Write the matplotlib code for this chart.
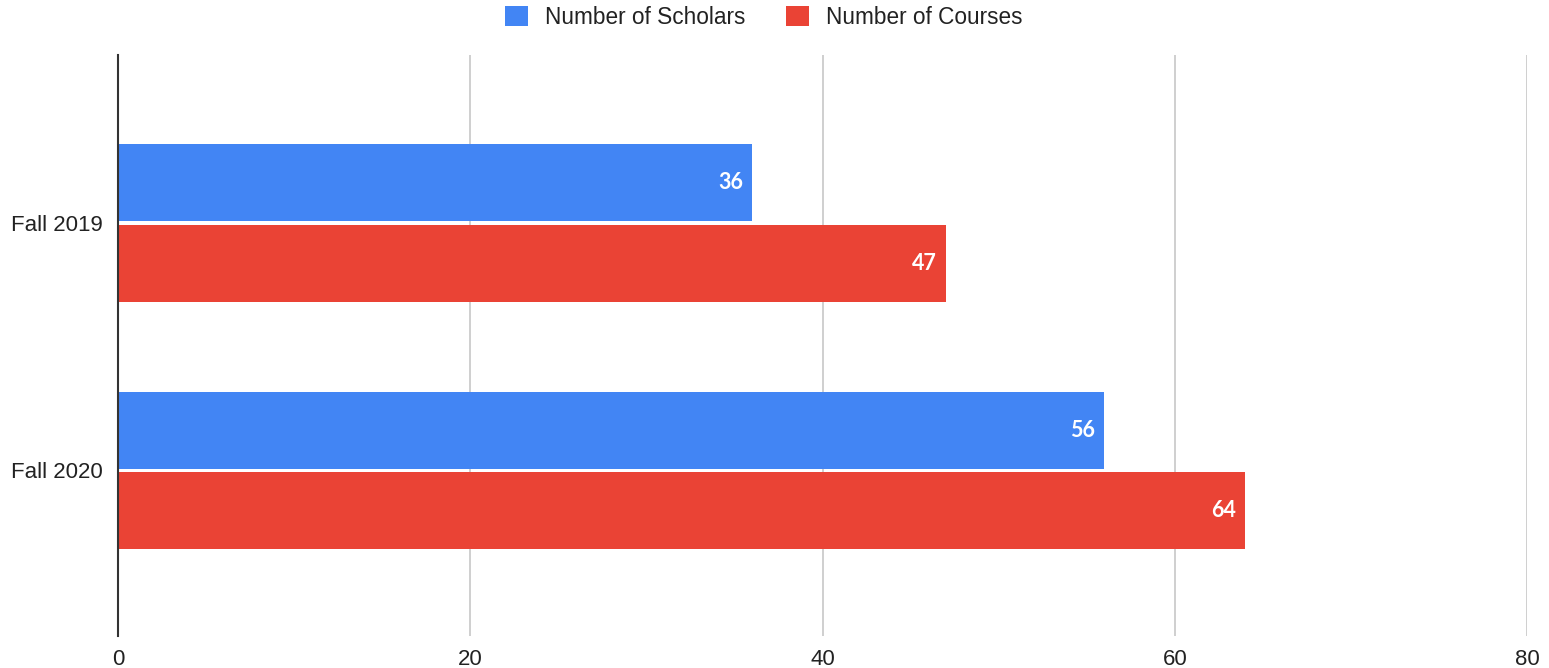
import matplotlib.pyplot as plt
import numpy as np

terms = ['Fall 2019', 'Fall 2020']
scholars = [36, 56]
courses = [47, 64]
series_names = ['Number of Scholars', 'Number of Courses']
x_ticks = [0, 20, 40, 60, 80]

blue = '#4285F4'
red = '#EA4335'

plt.rcParams['font.family'] = ['Liberation Sans', 'DejaVu Sans']

fig = plt.figure(figsize=(15.49, 6.68), dpi=100)
ax = fig.add_axes([0.0762, 0.0479, 0.9096, 0.8698])

y = np.arange(len(terms))
h = 0.31
gap = 0.008
b1 = ax.barh(y - h / 2 - gap, scholars, height=h, color=blue, label=series_names[0], zorder=3)
b2 = ax.barh(y + h / 2 + gap, courses, height=h, color=red, label=series_names[1], zorder=3)

# white value labels at the bar ends
for bars in (b1, b2):
    for rect in bars:
        w = rect.get_width()
        ax.text(w - 0.5, rect.get_y() + rect.get_height() / 2, str(int(w)),
                ha='right', va='center', color='white', fontsize=15.5,
                family='Lato', fontweight='bold', zorder=4)

ax.set_xlim(0, 80)
ax.set_ylim(1.668, -0.677)
ax.set_xticks(x_ticks)
ax.set_yticks(y)
ax.set_yticklabels(terms)
ax.tick_params(axis='both', length=0, labelsize=16, colors='#222222')
ax.tick_params(axis='x', pad=9)
ax.tick_params(axis='y', pad=11)
ax.grid(axis='x', color='#CCCCCC', linewidth=1.3, zorder=0)
for s in ['top', 'right', 'bottom']:
    ax.spines[s].set_visible(False)
ax.spines['left'].set_color('#333333')
ax.spines['left'].set_linewidth(1.5)
ax.spines['left'].set_zorder(5)

fig.legend(handles=[b1, b2], labels=series_names, loc='upper center',
           bbox_to_anchor=(0.493, 1.022), ncol=2, frameon=False, fontsize=16.3,
           handlelength=1.0, handleheight=1.0, columnspacing=1.8, handletextpad=0.75,
           labelcolor='#222222')

fig.savefig('out.png', dpi=100)
